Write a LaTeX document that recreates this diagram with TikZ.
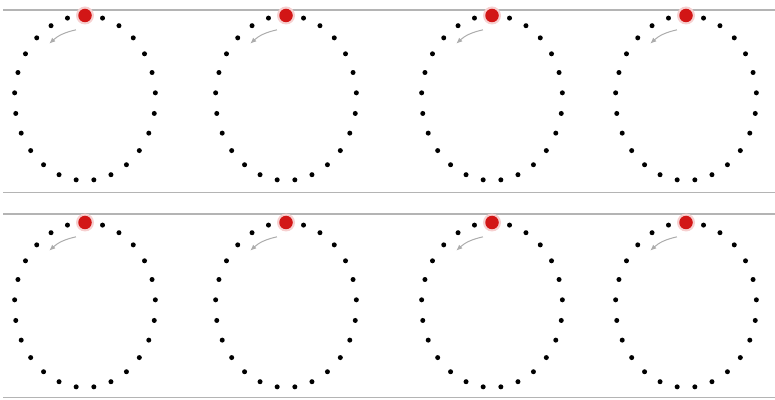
\documentclass[tikz,border=0pt]{standalone}
\usepackage{tikz}
\usetikzlibrary{arrows.meta}
\definecolor{markred}{RGB}{210,22,22}
\definecolor{rulegray}{RGB}{180,180,180}
\definecolor{arrowgray}{RGB}{172,172,172}
\begin{document}
\begin{tikzpicture}[
		x=1pt,
		y=1pt,
		dot/.style={circle, fill=black, inner sep=0pt, minimum size=5pt},
		glow/.style={circle, fill=markred!20, inner sep=0pt, minimum size=18pt},
		marker/.style={circle, fill=markred, inner sep=0pt, minimum size=13.5pt},
		divider/.style={draw=rulegray, line width=1.4pt},
		spinarrow/.style={-{Latex[length=6pt,width=5pt]}, draw=arrowgray, line width=1pt}
		]
		\useasboundingbox (0,0) rectangle (775,399);
		
		% Row dividers
		\coordinate (r1a) at (3,389);   \coordinate (r1b) at (775,389);
		\coordinate (r2a) at (3,206.5); \coordinate (r2b) at (775,206.5);
		\coordinate (r3a) at (3,185);   \coordinate (r3b) at (775,185);
		\coordinate (r4a) at (3,1.5);   \coordinate (r4b) at (775,1.5);
		\foreach \r in {1,2,3,4}{
			\draw[divider] (r\r a) -- (r\r b);
		}
		
		% Rings of dots
		\foreach \cx [count=\i] in {85,286,492,686}{
			\foreach \cy [count=\j] in {301,94}{
				\foreach \k in {1,...,24}{
					\node[dot] (ring\i\j-\k) at ({\cx+70.5*cos(90+14.4*\k)},{\cy+82.5*sin(90+14.4*\k)}) {};
				}
				% Red marker on top
				\node[glow] (halo\i\j) at (\cx,\cy+82.5) {};
				\node[marker] (mark\i\j) at (\cx,\cy+82.5) {};
				% Turning arrow
				\coordinate (from\i\j) at ({\cx+58*cos(99)},{\cy+69*sin(99)});
				\coordinate (to\i\j) at ({\cx+58*cos(128)},{\cy+69*sin(128)});
				\draw[spinarrow] (from\i\j) to[bend right=15] (to\i\j);
			}
		}
		
	\end{tikzpicture}
\end{document}
